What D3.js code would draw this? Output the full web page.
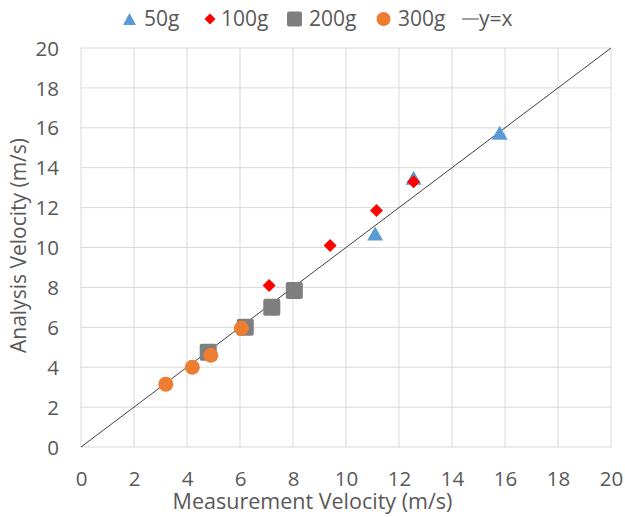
<!DOCTYPE html>
<html>
<head>
<meta charset="utf-8">
<script src="https://cdn.jsdelivr.net/npm/d3@7"></script>
<style>
  body { margin: 0; background: #fff; }
  text { font-family: "Open Sans", sans-serif; fill: #595959; }
</style>
</head>
<body>
<div id="chart"></div>
<script>
// chart data

const ticks = [0, 2, 4, 6, 8, 10, 12, 14, 16, 18, 20];

const g50 = [[11.1, 10.7], [12.55, 13.5], [15.8, 15.75]];
const g100 = [[7.1, 8.1], [9.4, 10.1], [11.15, 11.85], [12.55, 13.3]];
const g200 = [[4.8, 4.75], [6.2, 6.0], [7.2, 7.0], [8.05, 7.85]];
const g300 = [[3.2, 3.15], [4.2, 4.0], [4.9, 4.6], [6.05, 5.95]];
const identity = [[0, 0], [20, 20]];

const legendLabels = ["50g", "100g", "200g", "300g", "y=x"];

// dimensions

const W = 625, H = 517;
const margin = { top: 48, right: 14, bottom: 70, left: 81 };
const width = W - margin.left - margin.right;
const height = H - margin.top - margin.bottom;

const x = d3.scaleLinear().domain([0, 20]).range([0, width]);
const y = d3.scaleLinear().domain([0, 20]).range([height, 0]);

const svg = d3.select("#chart")
  .append("svg")
    .attr("width", W)
    .attr("height", H);

const g = svg.append("g")
    .attr("transform", `translate(${margin.left},${margin.top})`);

// gridlines

g.append("g")
  .selectAll("line")
  .data(ticks)
  .join("line")
    .attr("x1", d => x(d)).attr("x2", d => x(d))
    .attr("y1", 0).attr("y2", height)
    .attr("stroke", "#d9d9d9");

g.append("g")
  .selectAll("line")
  .data(ticks)
  .join("line")
    .attr("y1", d => y(d)).attr("y2", d => y(d))
    .attr("x1", 0).attr("x2", width)
    .attr("stroke", "#d9d9d9");

// axes (labels only)

const xAxis = g.append("g")
    .attr("transform", `translate(0,${height})`)
    .call(d3.axisBottom(x).tickValues(ticks).tickSize(0).tickPadding(24));
const yAxis = g.append("g")
    .call(d3.axisLeft(y).tickValues(ticks).tickSize(0).tickPadding(22));

[xAxis, yAxis].forEach(a => {
  a.select(".domain").remove();
  a.selectAll("text")
    .attr("font-family", "Open Sans, sans-serif")
    .attr("font-size", 20.5)
    .attr("fill", "#595959");
});
yAxis.selectAll("text").attr("dy", "0.35em");

// axis titles

svg.append("text")
    .attr("x", W / 2)
    .attr("y", 508.5)
    .attr("text-anchor", "middle")
    .attr("font-size", 21.5)
    .text("Measurement Velocity (m/s)");

svg.append("text")
    .attr("transform", `translate(26,${margin.top + height / 2 - 2}) rotate(-90)`)
    .attr("text-anchor", "middle")
    .attr("font-size", 21)
    .text("Analysis Velocity (m/s)");

// y = x line

const line = d3.line().x(d => x(d[0])).y(d => y(d[1]));

g.append("path")
    .datum(identity)
    .attr("fill", "none")
    .attr("stroke", "#404040")
    .attr("stroke-width", 1)
    .attr("d", line);

// marker shapes (centered on bounding box)

const tri = (w, h) => `M0,${-h / 2}L${w / 2},${h / 2}L${-w / 2},${h / 2}Z`;
const dia = s => `M0,${-s / 2}L${s / 2},0L0,${s / 2}L${-s / 2},0Z`;

g.append("g")
  .selectAll("path")
  .data(g50)
  .join("path")
    .attr("transform", d => `translate(${x(d[0])},${y(d[1])})`)
    .attr("d", tri(16, 14))
    .attr("fill", "#5b9bd5");

g.append("g")
  .selectAll("path")
  .data(g100)
  .join("path")
    .attr("transform", d => `translate(${x(d[0])},${y(d[1])})`)
    .attr("d", dia(13))
    .attr("fill", "#ff0000");

g.append("g")
  .selectAll("rect")
  .data(g200)
  .join("rect")
    .attr("x", d => x(d[0]) - 8.5)
    .attr("y", d => y(d[1]) - 8.5)
    .attr("width", 17).attr("height", 17)
    .attr("rx", 2)
    .attr("fill", "#7f7f7f");

g.append("g")
  .selectAll("circle")
  .data(g300)
  .join("circle")
    .attr("cx", d => x(d[0]))
    .attr("cy", d => y(d[1]))
    .attr("r", 7.5)
    .attr("fill", "#ed7d31");

// legend

const legend = svg.append("g");
const ly = 19;

legend.append("path")
    .attr("transform", `translate(129.5,${ly})`)
    .attr("d", tri(13, 12)).attr("fill", "#5b9bd5");
legend.append("path")
    .attr("transform", `translate(210,${ly})`)
    .attr("d", dia(11)).attr("fill", "#ff0000");
legend.append("rect")
    .attr("x", 287).attr("y", ly - 7.5)
    .attr("width", 15).attr("height", 15).attr("rx", 2)
    .attr("fill", "#7f7f7f");
legend.append("circle")
    .attr("cx", 383.5).attr("cy", ly).attr("r", 7)
    .attr("fill", "#ed7d31");
legend.append("line")
    .attr("x1", 462).attr("x2", 479)
    .attr("y1", ly).attr("y2", ly)
    .attr("stroke", "#404040");

const labelX = [144, 221, 309, 398, 479];

legend.selectAll("text")
  .data(legendLabels)
  .join("text")
    .attr("x", (d, i) => labelX[i])
    .attr("y", ly)
    .attr("dy", "0.35em")
    .attr("font-size", 21)
    .text(d => d);
</script>
</body>
</html>
